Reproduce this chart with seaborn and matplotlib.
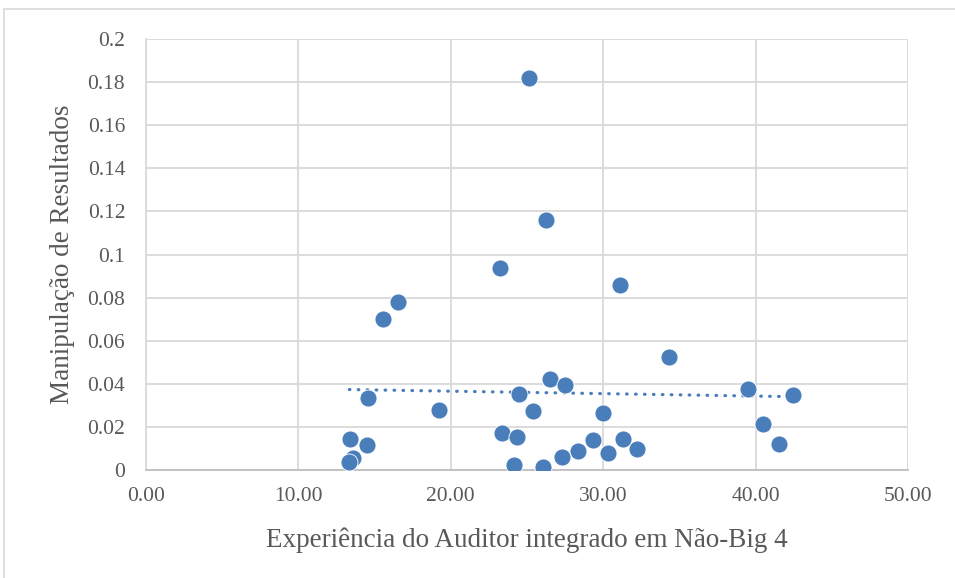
import numpy as np
import pandas as pd
import matplotlib.pyplot as plt
import seaborn as sns
from matplotlib.patches import Rectangle

# values
experiencia = [25.15, 26.25, 31.10, 23.23, 16.56, 15.57, 34.34, 26.50, 27.49,
               39.48, 24.48, 42.47, 14.57, 19.25, 25.42, 29.96, 40.50, 23.34,
               24.32, 13.39, 31.32, 29.36, 14.48, 41.51, 32.24, 28.33, 30.33,
               27.32, 13.60, 13.34, 24.15, 26.07]
manipulacao = [0.1818, 0.1160, 0.0858, 0.0936, 0.0781, 0.0701, 0.0526, 0.0422,
               0.0394, 0.0374, 0.0353, 0.0348, 0.0336, 0.0277, 0.0272, 0.0266,
               0.0213, 0.0173, 0.0155, 0.0144, 0.0144, 0.0138, 0.0118, 0.0119,
               0.0099, 0.0088, 0.0080, 0.0062, 0.0054, 0.0036, 0.0022, 0.0015]

x_ticks = [0, 10, 20, 30, 40, 50]
y_ticks = [0, 0.02, 0.04, 0.06, 0.08, 0.1, 0.12, 0.14, 0.16, 0.18, 0.2]
y_tick_labels = ["0", "0.02", "0.04", "0.06", "0.08", "0.1", "0.12", "0.14",
                 "0.16", "0.18", "0.2"]

df = pd.DataFrame({"x": experiencia, "y": manipulacao})

sns.set_style("white")
plt.rcParams['font.family'] = ['Liberation Serif', 'DejaVu Serif']

blue = "#4a7ebb"
fig = plt.figure(figsize=(9.55, 5.78), dpi=100)
fig.patches.append(Rectangle((4 / 955, -0.1), 1.2, 1.1 - 9 / 578,
                             transform=fig.transFigure, fill=False,
                             edgecolor="#d9d9d9", linewidth=1.2))
ax = fig.add_axes([146 / 955, 108 / 578, 762 / 955, 431 / 578])

# linear trend line (Excel style)
slope, intercept = np.polyfit(df["x"], df["y"], 1)
xs = np.array([df["x"].min(), df["x"].max()])
ax.plot(xs, slope * xs + intercept, color=blue, linewidth=2.3,
        linestyle=(0, (0.2, 2.6)), dash_capstyle="round", zorder=3)

sns.scatterplot(data=df, x="x", y="y", ax=ax, color=blue, s=150,
                edgecolor="white", linewidth=0.6, zorder=4)

ax.set_xlim(0, 50)
ax.set_ylim(0, 0.2)
ax.set_xticks(x_ticks)
ax.set_xticklabels([f"{t:.2f}" for t in x_ticks])
ax.set_yticks(y_ticks)
ax.set_yticklabels(y_tick_labels)
ax.grid(True, color="#d9d9d9", linewidth=1.3)
ax.set_axisbelow(True)
for side in ["top", "right"]:
    ax.spines[side].set_visible(False)
ax.spines["left"].set_color("#d9d9d9")
ax.spines["bottom"].set_color("#bfbfbf")
ax.spines["left"].set_linewidth(1.3)
ax.spines["bottom"].set_linewidth(1.3)

ax.tick_params(axis="both", length=0, labelsize=15.5, colors="#595959")
ax.tick_params(axis="y", pad=15)
ax.tick_params(axis="x", pad=12)
ax.set_xlabel("Experiência do Auditor integrado em Não-Big 4", fontsize=19.5,
              color="#595959", labelpad=16)
ax.set_ylabel("Manipulação de Resultados", fontsize=19.5, color="#595959",
              labelpad=9)

fig.savefig("out.png", dpi=100)
